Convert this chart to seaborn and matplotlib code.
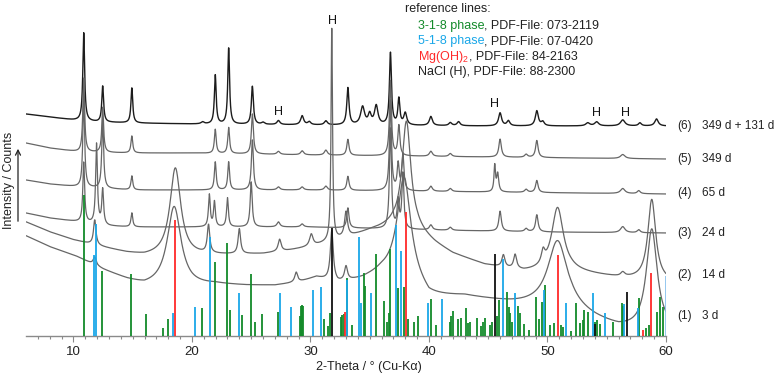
import numpy as np
import pandas as pd
import matplotlib
matplotlib.use("Agg")
import matplotlib.pyplot as plt
import seaborn as sns

# ---------------- reference lines (2-theta, relative height) ----------------
green_pos = [10.87, 12.42, 14.89, 16.15, 17.53, 17.95, 20.88, 21.91, 23.0, 23.24, 24.22, 25.0, 25.29,
             25.94, 27.23, 29.1, 29.2, 29.3, 29.4, 31.16, 31.45, 31.67, 32.6, 32.7, 32.8, 33.07, 33.5,
             34.48, 34.6, 35.52, 36.22, 36.45, 36.64, 36.75, 37.4, 37.88, 38.25, 38.73, 39.06, 40.15,
             40.58, 41.75, 41.87, 42.07, 42.49, 42.7, 43.1, 43.3, 43.47, 44.03, 44.37, 44.6, 44.7, 45.18,
             45.33, 45.78, 45.95, 46.62, 46.74, 46.85, 47.02, 47.55, 47.69, 48.03, 48.47, 49.04, 49.32,
             49.52, 49.8, 50.22, 50.56, 51.15, 51.35, 51.97, 52.41, 52.75, 52.97, 53.1, 53.45, 54.0,
             54.2, 54.4, 55.56, 56.25, 56.4, 57.75, 58.3, 58.6, 59.21, 59.49, 59.72]
green_h = [141, 65, 62, 22, 8, 17, 28, 74, 93, 26, 21, 62, 14,
           22, 24, 20, 30, 31, 30, 17, 10, 23, 19, 21, 22, 58, 11,
           63, 50, 82, 35, 14, 23, 87, 48, 49, 17, 14, 20, 37,
           11, 14, 20, 25, 17, 18, 28, 13, 14, 18, 10, 14, 18, 11,
           14, 20, 36, 44, 29, 23, 14, 30, 23, 12, 6, 39, 17,
           34, 51, 11, 13, 11, 9, 5, 33, 13, 16, 26, 24, 14,
           16, 12, 14, 33, 30, 38, 8, 11, 24, 39, 29]
blue_pos = [11.71, 11.91, 18.37, 20.23, 21.5, 24.0, 27.4, 28.4, 30.2, 30.88, 33.1, 34.06, 34.23, 35.1,
            37.23, 37.68, 39.9, 41.14, 46.23, 47.3, 49.69, 51.57, 53.87, 54.85, 56.45, 57.62]
blue_h = [81, 112, 23, 29, 99, 43, 43, 29, 46, 49, 56, 99, 33, 43,
          111, 85, 33, 37, 77, 43, 46, 33, 43, 23, 32, 28]
lightblue_pos = [59.98]
lightblue_h = [60]
red_pos = [18.57, 32.9, 38.08, 50.92, 58.03, 58.76]
red_h = [116, 24, 124, 81, 6, 63]
black_pos = [31.8, 45.55, 54.0, 56.68]
black_h = [108, 82, 12, 44]

# ---------------- measured patterns: background points + peak list ----------------
bg6_x = [6, 8, 10, 12, 15, 20, 30, 45, 60]
bg6_y = [222, 219, 216, 214, 213, 212, 211, 210, 210]
pk6_pos = [10.87, 12.47, 14.93, 20.9, 21.97, 23.1, 25.1, 26.0, 27.3, 29.3, 29.9, 31.3, 33.16, 34.4,
           35.0, 35.55, 36.75, 37.46, 38.0, 40.16, 41.8, 42.5, 46.0, 46.7, 49.1, 49.6, 53.4, 54.15,
           56.35, 57.8, 59.2]
pk6_h = [88, 36, 35, 2, 49, 76, 38, 2, 4, 9, 3, 4, 37, 18,
         10, 19, 72, 26, 12, 9, 3, 4, 13, 5, 15, 4, 3, 4,
         6, 3, 7]
pk6_w = [0.18, 0.18, 0.18, 0.3, 0.18, 0.18, 0.2, 0.3, 0.3, 0.3, 0.3, 0.3, 0.22, 0.4,
         0.3, 0.35, 0.2, 0.2, 0.3, 0.3, 0.3, 0.3, 0.3, 0.3, 0.3, 0.3, 0.4, 0.4,
         0.45, 0.3, 0.35]

bg5_x = [6, 8, 10.5, 15, 20, 30, 45, 60]
bg5_y = [193, 188, 184, 183, 183, 181, 179, 177]
pk5_pos = [10.87, 12.47, 14.93, 21.97, 23.1, 25.1, 27.3, 29.3, 31.3, 33.16, 36.75, 37.46, 40.16,
           41.8, 46.0, 48.2, 49.1, 56.35]
pk5_h = [74, 45, 17, 24, 26, 40, 3, 4, 5, 16, 75, 30, 5, 3, 18, 3, 17, 4]
pk5_w = [0.18, 0.18, 0.18, 0.18, 0.18, 0.2, 0.3, 0.3, 0.3, 0.22, 0.2, 0.2, 0.3,
         0.3, 0.25, 0.3, 0.25, 0.45]

bg4_x = [6, 8, 10.5, 15, 20, 30, 45, 60]
bg4_y = [156, 152, 149, 146, 146, 146, 144, 142]
pk4_pos = [10.87, 12.47, 14.93, 21.97, 23.1, 25.1, 27.3, 29.3, 31.3, 33.16, 36.75, 37.4, 37.8,
           40.16, 41.8, 45.55, 45.8, 48.2, 49.1, 56.35, 57.7]
pk4_h = [90, 70, 14, 28, 28, 50, 3, 3, 4, 14, 90, 26, 36, 5, 3, 26, 18, 3, 12, 5, 3]
pk4_w = [0.18, 0.18, 0.18, 0.18, 0.18, 0.2, 0.3, 0.3, 0.3, 0.22, 0.2, 0.2, 0.2,
         0.3, 0.3, 0.15, 0.2, 0.3, 0.25, 0.45, 0.3]

bg3_x = [6, 8, 10.5, 13, 15, 20, 30, 40, 50, 60]
bg3_y = [123, 118, 114, 110, 109, 109, 109, 106, 104, 103]
pk3_pos = [10.87, 11.95, 12.47, 14.93, 21.47, 21.9, 23.0, 25.0, 27.3, 29.3, 33.16, 36.75, 37.4,
           37.8, 40.16, 41.8, 46.0, 48.2, 49.1, 56.35, 57.7]
pk3_h = [60, 80, 35, 14, 32, 25, 29, 45, 5, 3, 20, 100, 27, 55, 5, 3, 20, 3, 17, 6, 3]
pk3_w = [0.18, 0.18, 0.18, 0.18, 0.18, 0.18, 0.18, 0.2, 0.3, 0.3, 0.22, 0.2, 0.2,
         0.2, 0.3, 0.3, 0.25, 0.3, 0.25, 0.45, 0.3]

bg2_x = [6, 8, 10, 12, 14.5, 16, 20, 23, 26, 28, 30, 33, 35, 37, 39, 40.5, 42, 44.7, 48, 52, 56, 60]
bg2_y = [114, 104, 96, 90, 83, 80, 80, 81, 82, 85, 89, 98, 105, 110, 104, 92, 82, 71, 64, 64, 58, 54]
pk2_pos = [11.8, 18.6, 21.4, 24.0, 27.4, 30.07, 31.8, 33.0, 38.1, 46.28, 47.27, 49.63, 50.85,
           56.35, 58.8]
pk2_h = [25, 88, 28, 25, 12, 12, 212, 25, 108, 12, 14, 12, 64, 4, 81]
pk2_w = [0.25, 1.1, 0.25, 0.25, 0.3, 0.35, 0.15, 0.3, 0.9, 0.3, 0.3, 0.35, 1.2, 0.4, 0.8]

bg1_x = [6, 8, 10.3, 12.5, 14.5, 16, 20, 22, 24.5, 27, 29, 30.5, 32.3, 34.4, 36, 38, 40, 43, 47,
         48.5, 52, 54, 56, 57.5, 60]
bg1_y = [100, 89, 79, 66, 56, 50, 49, 51, 50, 50, 53, 58, 52, 56, 62, 60, 38, 39, 32,
         30, 25, 16, 8, 6, 6]
pk1_pos = [11.8, 18.5, 28.8, 31.8, 33.0, 37.9, 50.85, 58.8]
pk1_h = [8, 80, 10, 50, 14, 98, 68, 100]
pk1_w = [0.3, 1.4, 0.3, 0.3, 0.3, 1.4, 2.0, 1.1]

labels_num = ["(6)", "(5)", "(4)", "(3)", "(2)", "(1)"]
labels_age = ["349 d + 131 d", "349 d", "65 d", "24 d", "14 d", "3 d"]

# ---------------- build ----------------
sns.set_theme(style="white")
plt.rcParams["font.family"] = ["Liberation Sans", "DejaVu Sans"]
plt.rcParams["mathtext.fontset"] = "custom"
plt.rcParams["mathtext.rm"] = "Liberation Sans"
plt.rcParams["mathtext.it"] = "Liberation Sans"

W, H = 775, 377
fig = plt.figure(figsize=(W / 100, H / 100), dpi=100)
ax = fig.add_axes([26 / W, 41 / H, 640 / W, 336 / H])

x = np.linspace(6, 60, 5401)


def pattern(bgx, bgy, pos, hh, ww):
    y = np.interp(x, bgx, bgy)
    for p, h, w in zip(pos, hh, ww):
        y = y + h / (1 + ((x - p) / (w / 2)) ** 2)
    return y


traces = [
    (bg6_x, bg6_y, pk6_pos, pk6_h, pk6_w, "#1c1c1c", 1.0),
    (bg5_x, bg5_y, pk5_pos, pk5_h, pk5_w, "#666666", 0.9),
    (bg4_x, bg4_y, pk4_pos, pk4_h, pk4_w, "#666666", 0.9),
    (bg3_x, bg3_y, pk3_pos, pk3_h, pk3_w, "#666666", 0.9),
    (bg2_x, bg2_y, pk2_pos, pk2_h, pk2_w, "#666666", 0.9),
    (bg1_x, bg1_y, pk1_pos, pk1_h, pk1_w, "#666666", 0.9),
]
for bgx, bgy, pos, hh, ww, col, lw in traces:
    df = pd.DataFrame({"x": x, "y": pattern(bgx, bgy, pos, hh, ww)})
    sns.lineplot(data=df, x="x", y="y", ax=ax, color=col, lw=lw, estimator=None, sort=False)

blw = 1.3
ax.vlines(green_pos, 0, green_h, color="#138a2a", lw=blw, zorder=5)
ax.vlines(blue_pos, 0, blue_h, color="#1aa7e8", lw=blw, zorder=5)
ax.vlines(lightblue_pos, 0, lightblue_h, color="#8cc3ee", lw=blw, zorder=5)
ax.vlines(red_pos, 0, red_h, color="#ff2a2a", lw=blw, zorder=6)
ax.vlines(black_pos, 0, black_h, color="#111111", lw=blw, zorder=6)

ax.set_xlim(6, 60)
ax.set_ylim(0, 336)
for s in ["top", "right", "left"]:
    ax.spines[s].set_visible(False)
ax.spines["bottom"].set_color("#8a8a8a")
ax.spines["bottom"].set_linewidth(1.0)
ax.set_yticks([])
ax.set_xticks([10, 20, 30, 40, 50, 60])
ax.set_xticks(np.arange(7, 61, 1), minor=True)
ax.tick_params(axis="x", which="major", direction="out", length=4, width=0.8, color="#8a8a8a",
               labelsize=9.5, labelcolor="#222222", pad=3, bottom=True)
ax.tick_params(axis="x", which="minor", direction="out", length=2.5, width=0.8, color="#8a8a8a",
               bottom=True)
ax.set_xlabel("")
ax.set_ylabel("")

# H labels
for hx, hy in [(31.85, 315), (27.3, 224), (45.55, 232), (54.15, 223), (56.6, 223)]:
    ax.text(hx, hy, "H", ha="center", va="center", fontsize=9, color="#111111")


def fx(px):
    return px / W


def fy(py):
    return 1 - py / H


fig.text(fx(369), fy(367), "2-Theta / ° (Cu-Kα)", ha="center", va="center", fontsize=9,
         color="#222222")
fig.text(fx(9), fy(180), "Intensity / Counts", ha="center", va="center", rotation=90, fontsize=9,
         color="#222222")
fig.add_artist(matplotlib.patches.FancyArrowPatch((fx(18), fy(224)), (fx(18), fy(146)),
                                                  transform=fig.transFigure, arrowstyle="->",
                                                  mutation_scale=9, lw=0.9, color="#222222"))

label_y = [126, 159, 193, 233, 275, 316]
for n, a, py in zip(labels_num, labels_age, label_y):
    fig.text(fx(677), fy(py), n, ha="left", va="center", fontsize=8.5, color="#222222")
    fig.text(fx(702), fy(py), a, ha="left", va="center", fontsize=8.5, color="#222222")

renderer = fig.canvas.get_renderer()
fig.text(fx(405), fy(9), "reference lines:", ha="left", va="center", fontsize=9, color="#222222")
legend_lines = [
    [("3-1-8 phase", "#138a2a"), (", PDF-File: 073-2119", "#222222")],
    [("5-1-8 phase", "#1aa7e8"), (", PDF-File: 07-0420", "#222222")],
    [("Mg(OH)$_2$", "#ff2a2a"), (", PDF-File: 84-2163", "#222222")],
    [("NaCl (H), PDF-File: 88-2300", "#222222")],
]
for i, parts in enumerate(legend_lines):
    xx = fx(418)
    yy = fy(26 + 15.3 * i)
    for txt, col in parts:
        t = fig.text(xx, yy, txt, ha="left", va="center", fontsize=9, color=col)
        bb = t.get_window_extent(renderer)
        xx = xx + bb.width / fig.bbox.width

fig.savefig("out.png", dpi=100, facecolor="white")
